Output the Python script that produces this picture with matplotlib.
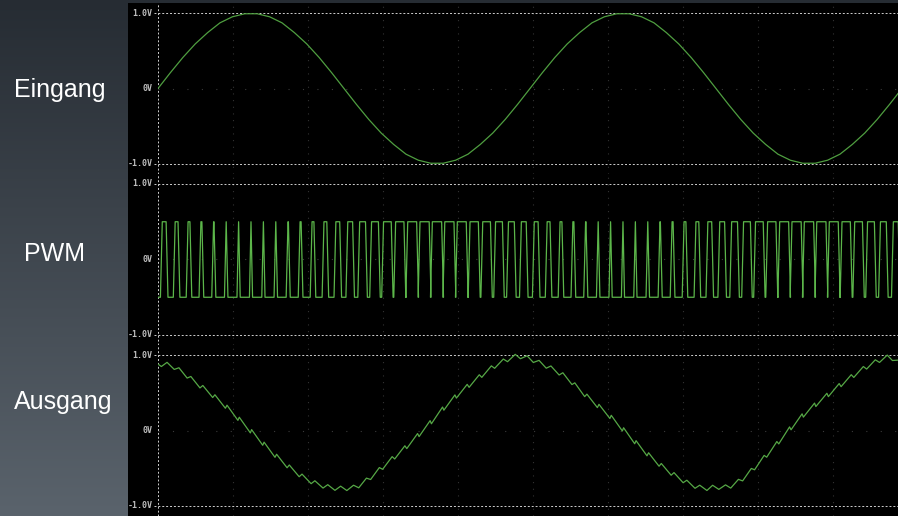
import numpy as np
import matplotlib
matplotlib.use('Agg')
import matplotlib.pyplot as plt
from matplotlib.colors import LinearSegmentedColormap

W, H = 898, 516

# signal names on the left
names = ['Eingang', 'PWM', 'Ausgang']
ylabels = ['1.0V', '0V', '-1.0V']

# input sine, sampled once per PWM cycle (k = 0..60)
eingang = [0.00, 0.21, 0.41, 0.59, 0.74, 0.87, 0.95, 0.99, 0.99, 0.95,
           0.87, 0.74, 0.59, 0.41, 0.21, 0.00, -0.21, -0.41, -0.59, -0.74,
           -0.87, -0.95, -0.99, -0.99, -0.95, -0.87, -0.74, -0.59, -0.41, -0.21,
           0.00, 0.21, 0.41, 0.59, 0.74, 0.87, 0.95, 0.99, 0.99, 0.95,
           0.87, 0.74, 0.59, 0.41, 0.21, 0.00, -0.21, -0.41, -0.59, -0.74,
           -0.87, -0.95, -0.99, -0.99, -0.95, -0.87, -0.74, -0.59, -0.41, -0.21,
           0.00]

# duty cycle of each PWM period (60 periods on screen)
duty = [0.46, 0.38, 0.30, 0.23, 0.18, 0.13, 0.11, 0.10, 0.11, 0.13,
        0.18, 0.23, 0.30, 0.38, 0.46, 0.54, 0.62, 0.70, 0.77, 0.82,
        0.87, 0.89, 0.90, 0.89, 0.87, 0.82, 0.77, 0.70, 0.62, 0.54,
        0.46, 0.38, 0.30, 0.23, 0.18, 0.13, 0.11, 0.10, 0.11, 0.13,
        0.18, 0.23, 0.30, 0.38, 0.46, 0.54, 0.62, 0.70, 0.77, 0.82,
        0.87, 0.89, 0.90, 0.89, 0.87, 0.82, 0.77, 0.70, 0.62, 0.54]
pwm_hi, pwm_lo = 0.5, -0.5

# filtered output at the start of each PWM period (k = 0..60)
ausgang = [0.88, 0.87, 0.77, 0.64, 0.52, 0.39, 0.24, 0.07, -0.09, -0.26,
           -0.41, -0.54, -0.65, -0.72, -0.76, -0.77, -0.75, -0.64, -0.50, -0.36,
           -0.22, -0.06, 0.11, 0.29, 0.45, 0.59, 0.72, 0.84, 0.93, 0.99,
           0.95, 0.88, 0.80, 0.70, 0.54, 0.39, 0.26, 0.10, -0.07, -0.24,
           -0.39, -0.52, -0.63, -0.72, -0.77, -0.75, -0.75, -0.66, -0.51, -0.34,
           -0.16, 0.03, 0.20, 0.34, 0.47, 0.60, 0.72, 0.83, 0.92, 0.98,
           0.88]
ripple = 0.03

t_end = 59.68          # visible PWM periods
grid_step = 6.05       # graticule spacing in periods
colors = ['#4f9e40', '#5cb64a', '#56a846']
dash_col = '#cfcfcf'


def rect(x0, y0, x1, y1):
    return [x0 / W, 1 - y1 / H, (x1 - x0) / W, (y1 - y0) / H]


fig = plt.figure(figsize=(W / 100, H / 100), dpi=100)

# slate gradient background
bg = fig.add_axes([0, 0, 1, 1])
cmap = LinearSegmentedColormap.from_list('slate', ['#262c33', '#5a636c'])
bg.imshow(np.linspace(0, 1, 256).reshape(-1, 1), aspect='auto', cmap=cmap,
          extent=[0, 1, 0, 1])
bg.set_axis_off()

# black scope screen
scr = fig.add_axes(rect(128, 3, 898, 516))
scr.set_facecolor('black')
scr.set_xticks([])
scr.set_yticks([])
for s in scr.spines.values():
    s.set_visible(False)

# build traces
k = np.arange(len(eingang))
pwm_t, pwm_v = [], []
out_t, out_v = [], []
r = 0.15
for i, d in enumerate(duty):
    c = i + 0.5
    up0, up1 = c - d / 2 - r / 2, c - d / 2 + r / 2
    dn0, dn1 = c + d / 2 - r / 2, c + d / 2 + r / 2
    if up1 > dn0:
        up1 = dn0 = c
    pwm_t += [i, up0, up1, dn0, dn1]
    pwm_v += [pwm_lo, pwm_lo, pwm_hi, pwm_hi, pwm_lo]
    tmin, tmax = c - d / 2, c + d / 2
    out_t += [tmin, tmax]
    out_v += [np.interp(tmin, k, ausgang) - ripple,
              np.interp(tmax, k, ausgang) + ripple]
pwm_t.append(len(duty))
pwm_v.append(pwm_lo)
out_t = [0] + out_t
out_v = [ausgang[0]] + out_v

traces = [(k, eingang), (pwm_t, pwm_v), (out_t, out_v)]
panels = [(3, 174), (174, 345), (345, 516)]
ylim = 85.5 / 75.5

for (y0, y1), (tx, ty), col in zip(panels, traces, colors):
    ax = fig.add_axes(rect(158, y0, 898, y1))
    ax.set_xlim(0, t_end)
    ax.set_ylim(-ylim, ylim)
    ax.patch.set_alpha(0)
    ax.set_axis_off()

    # graticule
    for n in range(1, 10):
        ax.axvline(grid_step * n, color='#333333', lw=0.8,
                   ls=(0, (1, 5)), zorder=1)
    ax.axhline(0, color='#3a3a3a', lw=0.8, ls=(0, (1, 12)), zorder=1)
    ax.axvline(0, color=dash_col, lw=0.7, ls=(0, (2, 2)), zorder=2)
    for yv in (1, -1):
        ax.plot([-0.35, t_end], [yv, yv], color=dash_col, lw=0.7,
                ls=(0, (2, 2)), clip_on=False, zorder=2)

    for yv, lab in zip((1, 0, -1), ylabels):
        ax.text(-0.45, yv, lab, ha='right', va='center', color='#bdbdbd',
                family='DejaVu Sans Mono', weight='bold', size=6)

    ax.plot(tx, ty, color=col, lw=0.9, zorder=3)

# left hand labels
label_pos = [(60, 97), (55, 261), (63, 409)]
for (x, y), name in zip(label_pos, names):
    fig.text(x / W, 1 - y / H, name, ha='center', va='baseline',
             color='white', family='Liberation Sans', size=18)

fig.savefig('out.png', dpi=100)
plt.close()
